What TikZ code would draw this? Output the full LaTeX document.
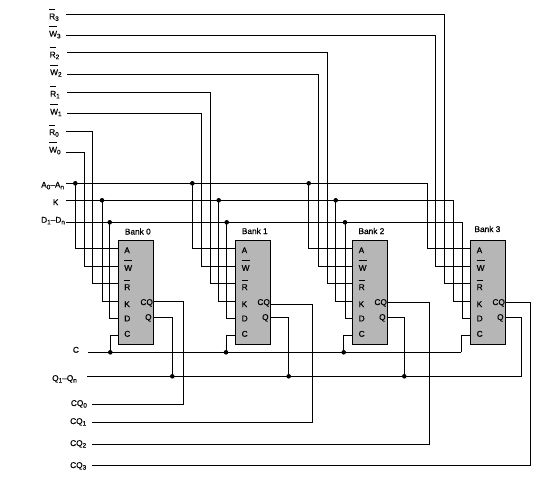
\documentclass[tikz,border=0pt]{standalone}
\usepackage{fontspec}
\setmainfont{Liberation Sans}[RawFeature={embolden=0.7}]
\newsavebox{\ovlbox}
\newcommand{\ovl}[1]{\sbox{\ovlbox}{#1}\rlap{\rule[9.7pt]{\wd\ovlbox}{0.75pt}}\usebox{\ovlbox}}
\newcommand{\lowsub}[1]{\raisebox{-1.6pt}{\fontsize{6.4}{7}\selectfont #1}}
\definecolor{bankgray}{HTML}{B6B6B6}
\tikzset{
  wire/.style={line width=1pt,black,line cap=butt,line join=miter},
  lab/.style={inner sep=0pt,anchor=base west,font=\fontsize{8.3}{10}\selectfont,text=black},
  pinr/.style={inner sep=0pt,anchor=base east,font=\fontsize{8.3}{10}\selectfont,text=black},
  bankbox/.style={draw=black,fill=bankgray,line width=1pt,inner sep=0pt},
  jdot/.style={circle,fill=black,inner sep=0pt,minimum size=4.6pt}
}
\begin{document}
\begin{tikzpicture}[x=1pt,y=-1pt]
\useasboundingbox[fill=white] (0,0) rectangle (546,487);

% banks
\foreach \n/\l/\r/\bl/\bx/\by in {0/118.3/153.3/Bank 0/124.7/234.5,1/235.7/270.3/Bank 1/241.7/234,2/352.7/387.3/Bank 2/358.3/234,3/470.7/505.3/Bank 3/474.3/232}{
  \path[bankbox,draw,fill=bankgray] (\l,240.3) rectangle (\r,344);
  \node[lab] (title\n) at (\bx,\by) {\bl};
  \node[lab] (pa\n) at (\l+5.8,253.2) {A};
  \node[lab] (pw\n) at (\l+5.8,270.8) {\ovl{W}};
  \node[lab] (pr\n) at (\l+5.8,290) {\ovl{R}};
  \node[lab] (pk\n) at (\l+5.8,307) {K};
  \node[lab] (pd\n) at (\l+5.8,321.3) {D};
  \node[lab] (pc\n) at (\l+5.8,336.7) {C};
  \node[pinr] (pcq\n) at (\r-0.2,305) {CQ};
  \node[pinr] (pq\n) at (\r-1.5,320) {Q};
  \coordinate (A\n) at (\l,248.7);
  \coordinate (W\n) at (\l,266.7);
  \coordinate (R\n) at (\l,283.7);
  \coordinate (K\n) at (\l,301);
  \coordinate (D\n) at (\l,318);
  \coordinate (C\n) at (\l,335);
  \coordinate (O\n) at (\r,317.5);
}
\coordinate (CQo0) at (153.3,301.7);
\coordinate (CQo1) at (270.3,304.3);
\coordinate (CQo2) at (387.3,302.7);
\coordinate (CQo3) at (505.3,302);

% left labels
\node[lab] (lR3) at (49,19.3) {\ovl{R}\lowsub{3}};
\node[lab] (lW3) at (49,36.7) {\ovl{W}\lowsub{3}};
\node[lab] (lR2) at (49.5,57.5) {\ovl{R}\lowsub{2}};
\node[lab] (lW2) at (50,75) {\ovl{W}\lowsub{2}};
\node[lab] (lR1) at (50,96.7) {\ovl{R}\lowsub{1}};
\node[lab] (lW1) at (50,114.5) {\ovl{W}\lowsub{1}};
\node[lab] (lR0) at (49,135) {\ovl{R}\lowsub{0}};
\node[lab] (lW0) at (49,152.7) {\ovl{W}\lowsub{0}};
\node[lab] (lA) at (41,187.7) {A\lowsub{0}–A\lowsub{n}};
\node[lab] (lK) at (52.7,205.2) {K};
\node[lab] (lD) at (41,222.7) {D\lowsub{1}–D\lowsub{n}};
\node[lab] (lC) at (72.7,352.7) {C};
\node[lab] (lQ) at (52,381) {Q\lowsub{1}–Q\lowsub{n}};
\node[lab] (lCQ0) at (70.7,406) {CQ\lowsub{0}};
\node[lab] (lCQ1) at (70,424) {CQ\lowsub{1}};
\node[lab] (lCQ2) at (70,446) {CQ\lowsub{2}};
\node[lab] (lCQ3) at (70,468) {CQ\lowsub{3}};

% wire start points
\coordinate (sR3) at (66,14.3);
\coordinate (sW3) at (66,35.3);
\coordinate (sR2) at (67,53);
\coordinate (sW2) at (67,74.3);
\coordinate (sR1) at (67,92.3);
\coordinate (sW1) at (67,113.3);
\coordinate (sR0) at (66,131.5);
\coordinate (sW0) at (66,152.3);
\coordinate (sA) at (66,183.3);
\coordinate (sK) at (66,200.3);
\coordinate (sD) at (66,222.3);
\coordinate (sC) at (88,352.3);
\coordinate (sQ) at (87,376.3);
\coordinate (sCQ0) at (92,404);
\coordinate (sCQ1) at (92,422);
\coordinate (sCQ2) at (92,444);
\coordinate (sCQ3) at (92,465.3);

% write / read strobes
\foreach \n/\wx/\rx in {0/84.3/92.3,1/201.3/210.3,2/318.3/327,3/435.7/444.7}{
  \coordinate (tW\n) at (\wx,0);
  \coordinate (tR\n) at (\rx,0);
  \draw[wire] (sW\n) -| (tW\n |- W\n) -- (W\n);
  \draw[wire] (sR\n) -| (tR\n |- R\n) -- (R\n);
}

% buses with tap points
\foreach \n/\ax/\kx/\dx in {0/75.3/102/109.7,1/192.3/218.7/226.7,2/308.7/335.7/345,3/427.3/453.3/462}{
  \coordinate (jA\n) at (\ax,183.3);
  \coordinate (jK\n) at (\kx,200.3);
  \coordinate (jD\n) at (\dx,222.3);
  \draw[wire] (jA\n) |- (A\n);
  \draw[wire] (jK\n) |- (K\n);
  \draw[wire] (jD\n) |- (D\n);
}
\draw[wire] (sA) -- (jA3);
\draw[wire] (sK) -- (jK3);
\draw[wire] (sD) -- (jD3);

% clock
\foreach \n/\cx in {0/110.3,1/226,2/343.7,3/461.3}{
  \coordinate (jC\n) at (\cx,352.3);
  \draw[wire] (jC\n) |- (C\n);
}
\draw[wire] (sC) -- (jC3);

% data out
\foreach \n/\qx in {0/172.3,1/288.7,2/404.3,3/521.7}{
  \coordinate (jQ\n) at (\qx,376.3);
  \draw[wire] (O\n) -| (jQ\n);
}
\draw[wire] (sQ) -- (jQ3);

% CQ
\foreach \n/\cx in {0/183.7,1/312.3,2/429,3/530.3}{
  \draw[wire] (CQo\n) -| (sCQ\n -| \cx,0) -- (sCQ\n);
}

% dots
\foreach \n in {0,1,2}{
  \node[jdot] (dA\n) at (jA\n) {};
  \node[jdot] (dK\n) at (jK\n) {};
  \node[jdot] (dD\n) at (jD\n) {};
  \node[jdot] (dC\n) at (jC\n) {};
  \node[jdot] (dQ\n) at (jQ\n) {};
}
\end{tikzpicture}
\end{document}
